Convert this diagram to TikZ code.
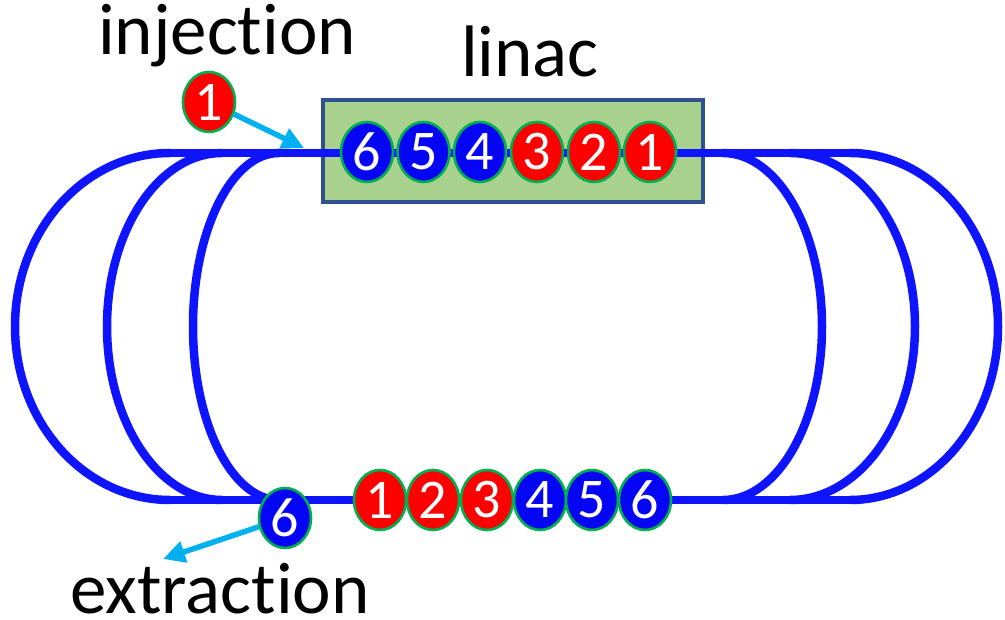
\documentclass[tikz,border=0pt]{standalone}
\usepackage{fontspec}
\setmainfont{Carlito}[Ligatures=NoCommon]
\usetikzlibrary{shapes.geometric,arrows.meta}

\definecolor{track}{RGB}{15,20,255}
\definecolor{bunchblue}{RGB}{5,5,245}
\definecolor{bunchred}{RGB}{255,0,0}
\definecolor{bunchrim}{RGB}{0,176,80}
\definecolor{linacfill}{RGB}{169,209,142}
\definecolor{linacrim}{RGB}{47,82,143}
\definecolor{kicker}{RGB}{0,176,240}

\tikzset{
  beamline/.style={draw=track, line width=8.5pt},
  bunch/.style={ellipse, draw=bunchrim, line width=2.6pt, text=white,
    minimum width=52pt, minimum height=60pt, inner sep=0pt,
    font=\fontsize{56}{56}\selectfont},
  bred/.style={bunch, fill=bunchred},
  bblue/.style={bunch, fill=bunchblue},
  label/.style={anchor=base west, inner sep=0pt, font=\fontsize{73}{80}\selectfont},
  kick/.style={draw=kicker, line width=5.5pt, -{Triangle[length=22pt,width=21pt]}}
}

\begin{document}
\begin{tikzpicture}[x=1pt,y=1pt]
\useasboundingbox (0,0) rectangle (1005,620);

% linac cavity
\node[draw=linacrim, fill=linacfill, line width=4.5pt, minimum width=380pt,
  minimum height=102pt, inner sep=0pt] (linac) at (513,469) {};

% recirculation passes: straight sections and return arcs
\draw[beamline] (170,467) -- (850,467);
\draw[beamline] (170,120) -- (850,120);
\draw[beamline] (170,467) arc[start angle=90, end angle=270, x radius=155pt, y radius=173.5pt];
\draw[beamline] (222,467) arc[start angle=90, end angle=270, x radius=115pt, y radius=173.5pt];
\draw[beamline] (279,467) arc[start angle=90, end angle=270, x radius=86pt, y radius=173.5pt];
\draw[beamline] (723,467) arc[start angle=90, end angle=-90, x radius=99pt, y radius=173.5pt];
\draw[beamline] (790,467) arc[start angle=90, end angle=-90, x radius=125pt, y radius=173.5pt];
\draw[beamline] (850,467) arc[start angle=90, end angle=-90, x radius=148pt, y radius=173.5pt];

% bunches inside the linac
\node[bblue] (l6) at (367,468) {6};
\node[bblue] (l5) at (423.5,468) {5};
\node[bblue] (l4) at (480,468) {4};
\node[bred]  (l3) at (537,468) {3};
\node[bred]  (l2) at (594,468) {2};
\node[bred]  (l1) at (650,468) {1};

% bunches on the return pass
\node[bred]  (r1) at (380,120) {1};
\node[bred]  (r2) at (433,120) {2};
\node[bred]  (r3) at (487,120) {3};
\node[bblue] (r4) at (540,120) {4};
\node[bblue] (r5) at (592,120) {5};
\node[bblue] (r6) at (645,120) {6};

% injection and extraction
\node[bred]  (inj) at (209,518) {1};
\node[bblue] (ext) at (285,102) {6};
\coordinate (injtip) at (304,472);
\coordinate (exttip) at (163,61);
\draw[kick] (inj) -- (injtip);
\draw[kick] (ext) -- (exttip);

% labels
\node[label] (tinj) at (98,565) {injection};
\node[label] (tlin) at (461,543) {linac};
\node[label] (text) at (70,6) {extraction};
\end{tikzpicture}
\end{document}
